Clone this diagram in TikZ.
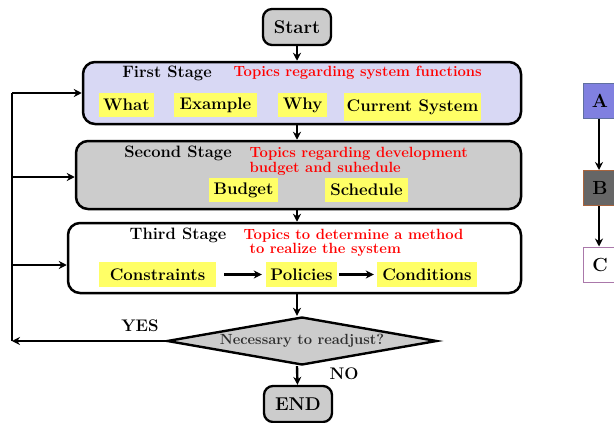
\documentclass[tikz,border=0pt]{standalone}
\usepackage{tikz}
\usetikzlibrary{shapes.geometric,arrows.meta}
\definecolor{lav}{RGB}{216,216,244}
\definecolor{gry}{RGB}{204,204,204}
\definecolor{yel}{RGB}{255,255,102}
\definecolor{ablue}{RGB}{128,128,224}
\definecolor{aborder}{RGB}{96,112,160}
\definecolor{bgrey}{RGB}{102,102,102}
\definecolor{bborder}{RGB}{170,100,60}
\definecolor{cborder}{RGB}{170,120,170}
\definecolor{dtext}{RGB}{45,45,45}
\begin{document}
\begin{tikzpicture}[x=1pt,y=-1pt,
  every node/.style={font=\fontsize{16.8}{16.8}\selectfont\bfseries},
  title/.style={font=\fontsize{16.5}{16.5}\selectfont\bfseries},
  stage/.style={draw, line width=2.5pt, rounded corners=12pt, inner sep=0pt},
  term/.style={draw, line width=2.3pt, rounded corners=9pt, fill=gry, minimum width=68pt, minimum height=36pt, font=\fontsize{18.5}{18.5}\selectfont\bfseries},
  item/.style={fill=yel, inner sep=0pt, minimum height=24pt},
  redtxt/.style={text=red, align=left, font=\fontsize{14.8}{12.5}\selectfont\bfseries},
  arr/.style={line width=2.4pt, -{Stealth[length=8pt,width=8pt]}},
  plain/.style={line width=2.4pt},
  abc/.style={draw, line width=1pt, minimum width=34pt, minimum height=35pt, inner sep=0pt, font=\fontsize{19}{19}\selectfont\bfseries},
 ]
\useasboundingbox (0,0) rectangle (614,423);

% terminals
\node[term] (start) at (297,27) {Start};
\node[term] (end) at (298,404) {END};

% stages
\node[stage, fill=lav, minimum width=438pt, minimum height=62pt] (s1) at (302,93) {};
\node[stage, fill=gry, minimum width=445pt, minimum height=68pt] (s2) at (298.5,175) {};
\node[stage, fill=white, minimum width=453pt, minimum height=70pt] (s3) at (294.5,258) {};

% first stage content
\node[title] (t1) at (167,73) {First Stage};
\node[redtxt, anchor=west] (r1) at (230,73) {Topics regarding system functions};
\node[item, minimum width=55pt] (what) at (126.5,105) {What};
\node[item, minimum width=83pt] (example) at (215.5,105) {Example};
\node[item, minimum width=49pt] (why) at (302.5,105) {Why};
\node[item, minimum width=137pt, minimum height=28pt] (current) at (412.5,107) {Current System};

% second stage content
\node[title] (t2) at (178,153) {Second Stage};
\node[redtxt, anchor=north west] (r2) at (246,144) {Topics regarding development\\budget and suhedule};
\node[item, minimum width=69pt] (budget) at (243.5,190) {Budget};
\node[item, minimum width=83pt] (schedule) at (366.5,190) {Schedule};

% third stage content
\node[title] (t3) at (178,235) {Third Stage};
\node[redtxt, anchor=north west] (r3) at (240,226) {Topics to determine a method\\\hspace*{6pt}to realize the system};
\node[item, minimum width=117pt, minimum height=25pt] (cons) at (157.5,274.5) {Constraints};
\node[item, minimum width=71pt, minimum height=25pt] (pol) at (301.5,274.5) {Policies};
\node[item, minimum width=100pt, minimum height=25pt] (cond) at (427,274.5) {Conditions};
\draw[arr, shorten <=8pt, shorten >=4pt] (cons) -- (pol);
\draw[arr, shorten <=2pt, shorten >=3pt] (pol) -- (cond);

% decision
\node[diamond, draw, fill=gry, line width=2.4pt, aspect=5.6, minimum width=270pt, minimum height=48pt, inner sep=0pt, text=dtext, font=\fontsize{14.7}{14.7}\selectfont\bfseries] (dec) at (302,341) {Necessary to readjust?};
\node (yes) at (140,326) {YES};
\node (no) at (344,374) {NO};

% main flow
\draw[arr] (start) -- (start |- s1.north);
\draw[arr] (start |- s1.south) -- (start |- s2.north);
\draw[arr] (start |- s2.south) -- (start |- s3.north);
\draw[arr] (start |- s3.south) -- (start |- dec.north);
\draw[arr] (start |- dec.south) -- (end);

% feedback loop
\coordinate (lb) at (12,341);
\coordinate (lt) at (12,93);
\coordinate (l2) at (12,177);
\coordinate (l3) at (12,265);
\draw[plain] (lb) -- (lt);
\draw[arr] (dec.west) -- (lb);
\draw[arr] (lt) -- (s1.west |- lt);
\draw[arr] (l2) -- (s2.west |- l2);
\draw[arr] (l3) -- (s3.west |- l3);

% legend boxes
\node[abc, fill=ablue, draw=aborder] (A) at (600,100.5) {A};
\node[abc, fill=bgrey, draw=bborder] (B) at (600,188) {B};
\node[abc, fill=white, draw=cborder] (C) at (600,264.5) {C};
\draw[arr] (A.south -| 599,0) -- (B.north -| 599,0);
\draw[arr] (B.south -| 599,0) -- (C.north -| 599,0);
\end{tikzpicture}
\end{document}
